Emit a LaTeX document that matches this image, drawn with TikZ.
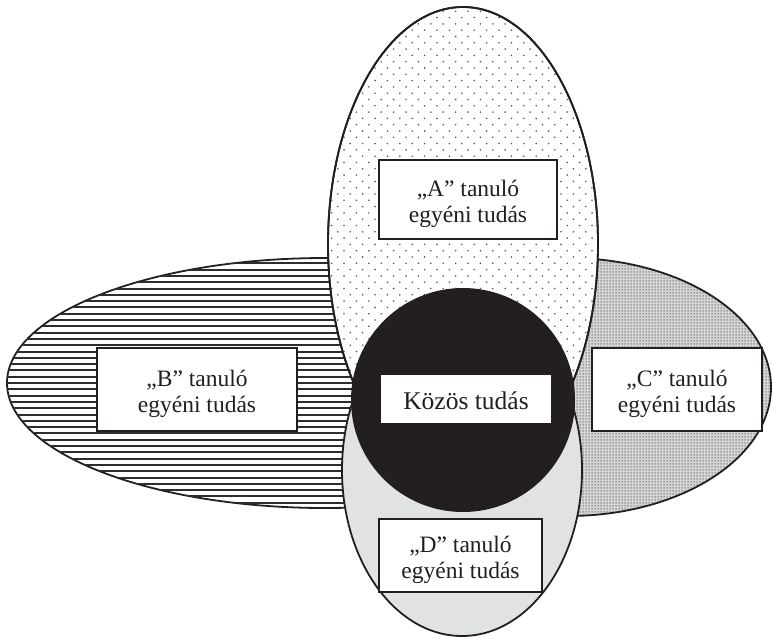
\documentclass[tikz,border=0pt]{standalone}
\usepackage{fontspec}
\setmainfont{Liberation Serif}
\usetikzlibrary{patterns}
\pgfdeclarepatternformonly{sparsedots}{\pgfpoint{-1pt}{-1pt}}{\pgfpoint{13.4pt}{13.6pt}}{\pgfpoint{12.4pt}{12.6pt}}{%
  \pgfpathcircle{\pgfpoint{3pt}{3pt}}{0.9pt}%
  \pgfpathcircle{\pgfpoint{9.2pt}{9.3pt}}{0.9pt}%
  \pgfusepath{fill}}
\pgfdeclarepatternformonly{hlines}{\pgfpoint{-1pt}{-1pt}}{\pgfpoint{11pt}{7.3pt}}{\pgfpoint{10pt}{6.3pt}}{%
  \pgfsetlinewidth{2pt}%
  \pgfpathmoveto{\pgfpoint{-1pt}{3pt}}\pgfpathlineto{\pgfpoint{11pt}{3pt}}%
  \pgfusepath{stroke}}
\pgfdeclarepatternformonly{finesquares}{\pgfpointorigin}{\pgfpoint{3pt}{3pt}}{\pgfpoint{3pt}{3pt}}{%
  \pgfpathrectangle{\pgfpoint{0.6pt}{0.6pt}}{\pgfpoint{1.8pt}{1.8pt}}%
  \pgfusepath{fill}}
\definecolor{dgray}{RGB}{225,226,228}
\definecolor{cbase}{RGB}{214,214,214}
\definecolor{csq}{RGB}{160,160,160}
\definecolor{ink}{RGB}{35,31,32}
\definecolor{hatch}{RGB}{45,45,45}
\definecolor{dotc}{RGB}{90,90,90}
\tikzset{
  outline/.style={draw=ink, line width=1.8pt},
  label box/.style={draw=ink, fill=white, line width=1.2pt, inner sep=0pt},
  label text/.style={align=center, font=\fontsize{23.5}{26}\selectfont,
    inner sep=0pt, text=ink, yshift=-4pt},
}
\begin{document}
\begin{tikzpicture}[x=1pt,y=-1pt]
\useasboundingbox (0,0) rectangle (773,638);
% B ellipse (left, horizontal lines)
\path[outline, fill=white] (325,383) ellipse [x radius=318pt, y radius=125pt];
\path[pattern=hlines, pattern color=hatch] (325,383) ellipse [x radius=318pt, y radius=125pt];
% C ellipse (right, fine gray texture)
\path[fill=cbase] (568,387) ellipse [x radius=203pt, y radius=129pt];
\path[pattern=finesquares, pattern color=csq] (568,387) ellipse [x radius=203pt, y radius=129pt];
\path[outline] (568,387) ellipse [x radius=203pt, y radius=129pt];
% A ellipse (top, sparse dots)
\path[outline, fill=white] (463,244) ellipse [x radius=135pt, y radius=237pt];
\path[pattern=sparsedots, pattern color=dotc] (463,244) ellipse [x radius=135pt, y radius=237pt];
\path[outline] (463,244) ellipse [x radius=135pt, y radius=237pt];
% D ellipse (bottom, light gray)
\path[outline, fill=dgray] (462,470) ellipse [x radius=120pt, y radius=166pt];
% common knowledge circle
\path[fill=ink] (463,400) circle [radius=112pt];
% label boxes
\node[label box, minimum width=178pt, minimum height=79pt] (a) at (468,199.5) {};
\node[label text] (at) at (a.center) {„A” tanuló\\egyéni tudás};
\node[label box, minimum width=200pt, minimum height=83pt] (b) at (197,389.5) {};
\node[label text] (bt) at (b.center) {„B” tanuló\\egyéni tudás};
\node[label box, minimum width=170pt, minimum height=83pt] (c) at (677,389.5) {};
\node[label text] (ct) at (c.center) {„C” tanuló\\egyéni tudás};
\node[label box, minimum width=163pt, minimum height=73pt] (d) at (460.5,555.5) {};
\node[label text] (dt) at (d.center) {„D” tanuló\\egyéni tudás};
\node[label box, minimum width=172pt, minimum height=50pt] (k) at (466,399) {};
\node[label text, font=\fontsize{25.5}{28}\selectfont, yshift=2pt] (kt) at (k.center) {Közös tudás};
\end{tikzpicture}
\end{document}
